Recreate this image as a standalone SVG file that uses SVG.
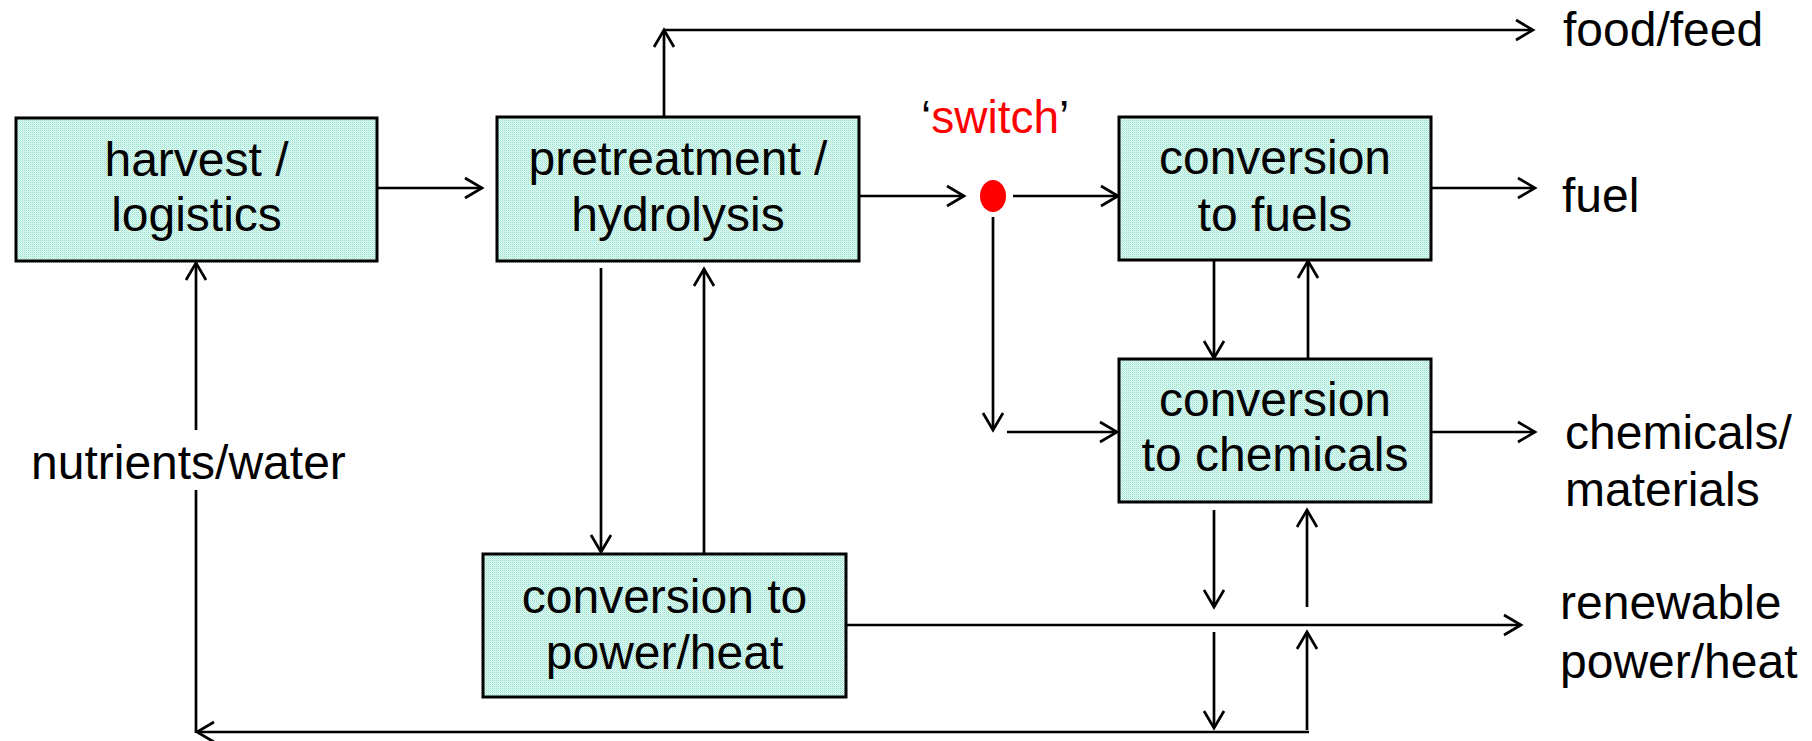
<svg xmlns="http://www.w3.org/2000/svg" width="1812" height="741" viewBox="0 0 1812 741">
<style>
text{font-family:"Liberation Sans",Arial,sans-serif;font-size:48px;fill:#000}
.c{text-anchor:middle}
.sw{font-size:46px}
.box{fill:url(#dots);stroke:#000;stroke-width:3}
.ln{fill:none;stroke:#000;stroke-width:2.7;stroke-linecap:butt}
.ar{marker-end:url(#ah)}
.red{fill:#ff0000}
</style>
<defs>
<pattern id="dots" width="2" height="2" patternUnits="userSpaceOnUse">
<rect width="2" height="2" fill="#e8f9f5"/>
<rect width="1" height="1" fill="#8fe0cc"/>
<rect x="1" y="1" width="1" height="1" fill="#b8ede0"/>
</pattern>
<marker id="ah" markerUnits="userSpaceOnUse" markerWidth="30" markerHeight="30" viewBox="-20 -15 30 30" refX="0" refY="0" orient="auto" overflow="visible">
<path d="M-17,-10 L0,0 L-17,10" fill="none" stroke="#000" stroke-width="2.7"/>
</marker>
</defs>
<rect width="1812" height="741" fill="#fff"/>
<g id="connectors">
<line class="ln ar" x1="377" y1="188" x2="482" y2="188"/>
<line class="ln ar" x1="664" y1="117" x2="664" y2="30"/>
<line class="ln ar" x1="664" y1="30" x2="1533" y2="30"/>
<line class="ln ar" x1="859" y1="196" x2="964" y2="196"/>
<line class="ln ar" x1="1013" y1="196" x2="1118" y2="196"/>
<line class="ln ar" x1="1431" y1="188" x2="1535" y2="188"/>
<line class="ln ar" x1="993" y1="217" x2="993" y2="430"/>
<line class="ln ar" x1="1007" y1="432" x2="1117" y2="432"/>
<line class="ln ar" x1="1214" y1="260" x2="1214" y2="358"/>
<line class="ln ar" x1="1308" y1="359" x2="1308" y2="261"/>
<line class="ln ar" x1="1431" y1="432" x2="1535" y2="432"/>
<line class="ln ar" x1="601" y1="268" x2="601" y2="552"/>
<line class="ln ar" x1="704" y1="553" x2="704" y2="269"/>
<line class="ln ar" x1="846" y1="625" x2="1521" y2="625"/>
<line class="ln ar" x1="1214" y1="510" x2="1214" y2="607"/>
<line class="ln ar" x1="1307" y1="607" x2="1307" y2="510"/>
<line class="ln ar" x1="1214" y1="632" x2="1214" y2="728"/>
<line class="ln ar" x1="1307" y1="730" x2="1307" y2="632"/>
<line class="ln ar" x1="1309" y1="732" x2="197" y2="732"/>
<line class="ln" x1="196" y1="733" x2="196" y2="490"/>
<line class="ln ar" x1="196" y1="430" x2="196" y2="263"/>
</g>
<g id="harvest">
<rect class="box" x="16" y="118" width="361" height="143"/>
<text class="c" x="196.5" y="176">harvest /</text>
<text class="c" x="196.5" y="231">logistics</text>
</g>
<g id="pretreatment">
<rect class="box" x="497" y="117" width="362" height="144"/>
<text class="c" x="678" y="175">pretreatment /</text>
<text class="c" x="678" y="231">hydrolysis</text>
</g>
<g id="fuels">
<rect class="box" x="1119" y="117" width="312" height="143"/>
<text class="c" x="1275" y="174">conversion</text>
<text class="c" x="1275" y="231">to fuels</text>
</g>
<g id="chemicals">
<rect class="box" x="1119" y="359" width="312" height="143"/>
<text class="c" x="1275" y="416">conversion</text>
<text class="c" x="1275" y="471">to chemicals</text>
</g>
<g id="power">
<rect class="box" x="483" y="554" width="363" height="143"/>
<text class="c" x="664.5" y="613">conversion to</text>
<text class="c" x="664.5" y="669">power/heat</text>
</g>
<g id="switch">
<ellipse cx="993" cy="196" rx="13" ry="16" fill="#ff0000"/>
<text class="sw" x="921" y="133"><tspan>‘</tspan><tspan class="red">switch</tspan><tspan>’</tspan></text>
</g>
<g id="outputs">
<text x="1563" y="46">food/feed</text>
<text x="1562" y="212">fuel</text>
<text x="1565" y="449">chemicals/</text>
<text x="1565" y="506">materials</text>
<text x="1560" y="619">renewable</text>
<text x="1560" y="678">power/heat</text>
<text x="31" y="479">nutrients/water</text>
</g>
</svg>
